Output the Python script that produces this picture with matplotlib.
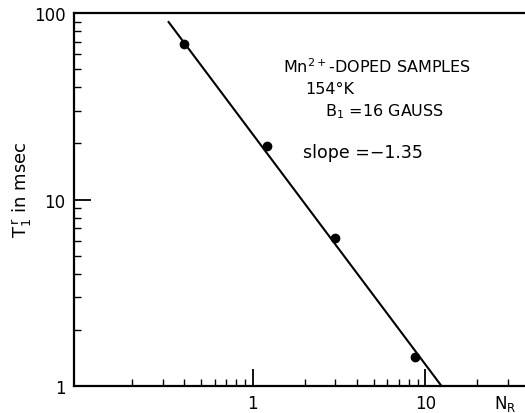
import matplotlib.pyplot as plt
from matplotlib.ticker import LogLocator, NullFormatter, FixedLocator, FixedFormatter

# measured points: N_R vs T1^r (msec)
n_r = [0.397, 1.21, 3.0, 8.75]
t1r = [68.0, 19.4, 6.2, 1.43]

# drawn fit line (slope = -1.35)
fit_x = [0.325, 12.4]
fit_y = [89.5, 1.0]

x_ticks = [1, 10]
x_labels = ['1', '10']
y_ticks = [1, 10, 100]
y_labels = ['1', '10', '100']

W, H = 525, 414
fig = plt.figure(figsize=(W / 100, H / 100), dpi=100)
ax = fig.add_axes([0.141, 0.065, 0.86, 0.901])

ax.plot(fit_x, fit_y, color='black', lw=1.5)
ax.plot(n_r, t1r, 'o', color='black', ms=6)

ax.set_xscale('log')
ax.set_yscale('log')
ax.set_xlim(0.092, 38)
ax.set_ylim(1, 100)

ax.xaxis.set_major_locator(FixedLocator(x_ticks))
ax.xaxis.set_major_formatter(FixedFormatter(x_labels))
ax.yaxis.set_major_locator(FixedLocator(y_ticks))
ax.yaxis.set_major_formatter(FixedFormatter(y_labels))
ax.xaxis.set_minor_locator(LogLocator(base=10, subs=range(2, 10)))
ax.yaxis.set_minor_locator(LogLocator(base=10, subs=range(2, 10)))
ax.xaxis.set_minor_formatter(NullFormatter())
ax.yaxis.set_minor_formatter(NullFormatter())

ax.tick_params(which='major', direction='in', length=12, width=1.3, labelsize=12, pad=6)
ax.tick_params(which='minor', direction='in', length=5, width=1.0)
ax.tick_params(top=False, right=False)
ax.spines['right'].set_visible(False)
for s in ['left', 'bottom', 'top']:
    ax.spines[s].set_linewidth(1.6)

ax.set_ylabel(r'T$_1^{\,\mathrm{r}}$ in msec', fontsize=13)
ax.yaxis.set_label_coords(-0.088, 0.53)
ax.text(0.93, -0.045, r'N$_\mathrm{R}$', transform=ax.transAxes, fontsize=12,
        va='center', ha='left')


def label(px, py, s, size=11.5):
    # place note text by pixel position measured from the top-left
    fig.text(px / W, 1 - py / H, s, fontsize=size, va='center', ha='left')


label(283, 67, r'Mn$^{2+}$-DOPED SAMPLES', 11.5)
label(305, 90, u'154\u00b0K', 11.5)
label(325, 112, r'B$_1$ =16 GAUSS', 11.5)
label(303, 153, 'slope =\u22121.35', 12.5)

fig.savefig('out.png', dpi=100)
